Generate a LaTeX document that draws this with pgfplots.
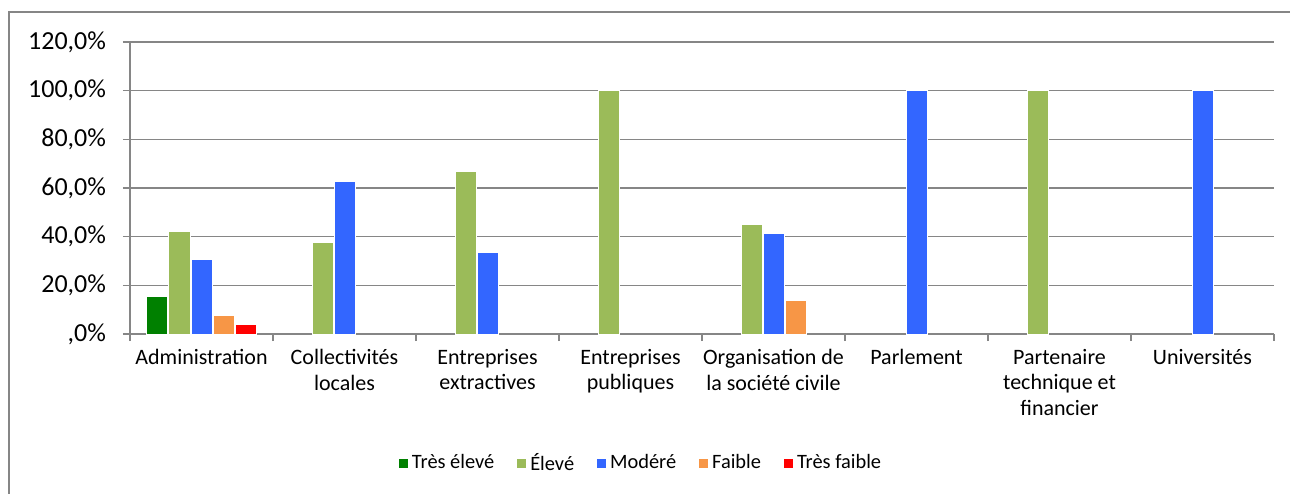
\documentclass[border=0pt]{standalone}
\usepackage{pgfplots}
\pgfplotsset{compat=1.18}
\usepackage{fontspec}
\setmainfont{Carlito}

\definecolor{tresEleve}{RGB}{0,128,0}
\definecolor{eleve}{RGB}{155,187,89}
\definecolor{modere}{RGB}{51,102,255}
\definecolor{faible}{RGB}{247,150,70}
\definecolor{tresFaible}{RGB}{255,0,0}
\definecolor{axegris}{RGB}{134,134,134}

\pgfplotsset{
  carre/.style={legend image code/.code={\path[##1, draw=none] (0pt,-2.25pt) rectangle (4.5pt,2.25pt);}},
}

\begin{document}
\begin{tikzpicture}
\begin{axis}[
  name=ax,
  scale only axis, width=572pt, height=146pt,
  xmin=-0.5, xmax=7.5, ymin=0, ymax=120,
  axis x line*=bottom, axis y line*=left,
  axis line style={axegris, line width=0.8pt},
  ybar, bar width=10.5pt,
  ymajorgrids, grid style={axegris, line width=0.8pt},
  ytick={0,20,...,120},
  yticklabels={{,0\%},{20,0\%},{40,0\%},{60,0\%},{80,0\%},{100,0\%},{120,0\%}},
  yticklabel style={font=\fontsize{13}{15}\selectfont, xshift=-5pt},
  xtick={-0.5,0.5,1.5,2.5,3.5,4.5,5.5,6.5,7.5}, xticklabels={},
  tick align=outside, major tick length=3.5pt,
  tick style={axegris, line width=0.8pt},
  extra x ticks={0,1,2,3,4,5,6,7},
  extra x tick labels={Administration, Collectivités\\locales, Entreprises\\extractives,
    Entreprises\\publiques, Organisation de\\la société civile, Parlement,
    Partenaire\\technique et\\financier, Universités},
  extra x tick style={major tick length=0pt,
    xticklabel style={anchor=north, align=center,
      font=\fontsize{11}{12.85}\selectfont, yshift=-4pt}},
  legend columns=-1,
  legend style={at={(0.4476,-0.442)}, anchor=center, draw=none,
    font=\fontsize{10.2}{12}\selectfont,
    /tikz/every even column/.append style={column sep=9.5pt}},
  every axis plot/.append style={draw=white, line width=0.5pt},
]
\addplot[fill=tresEleve, bar shift=-22pt, carre] coordinates {(0,15.4)};
\addlegendentry{Très élevé}
\addplot[fill=eleve, bar shift=-11pt, carre] coordinates {(0,42.3) (1,37.5) (2,66.7) (3,100) (4,44.8) (6,100)};
\addlegendentry{Élevé}
\addplot[fill=modere, bar shift=0pt, carre] coordinates {(0,30.8) (1,62.5) (2,33.3) (4,41.4) (5,100) (7,100)};
\addlegendentry{Modéré}
\addplot[fill=faible, bar shift=11pt, carre] coordinates {(0,7.7) (4,13.8)};
\addlegendentry{Faible}
\addplot[fill=tresFaible, bar shift=22pt, carre] coordinates {(0,3.8)};
\addlegendentry{Très faible}
\end{axis}
% outer chart frame
\draw[axegris, line width=0.75pt]
  ([shift={(-60.5pt,-100pt)}]ax.south west) -- ([shift={(-60.5pt,161pt)}]ax.south west)
  -- ([shift={(620pt,161pt)}]ax.south west);
\pgfresetboundingbox
\path[use as bounding box] ([shift={(-65pt,-79.5pt)}]ax.south west) rectangle ([shift={(580pt,167pt)}]ax.south west);
\end{tikzpicture}
\end{document}
